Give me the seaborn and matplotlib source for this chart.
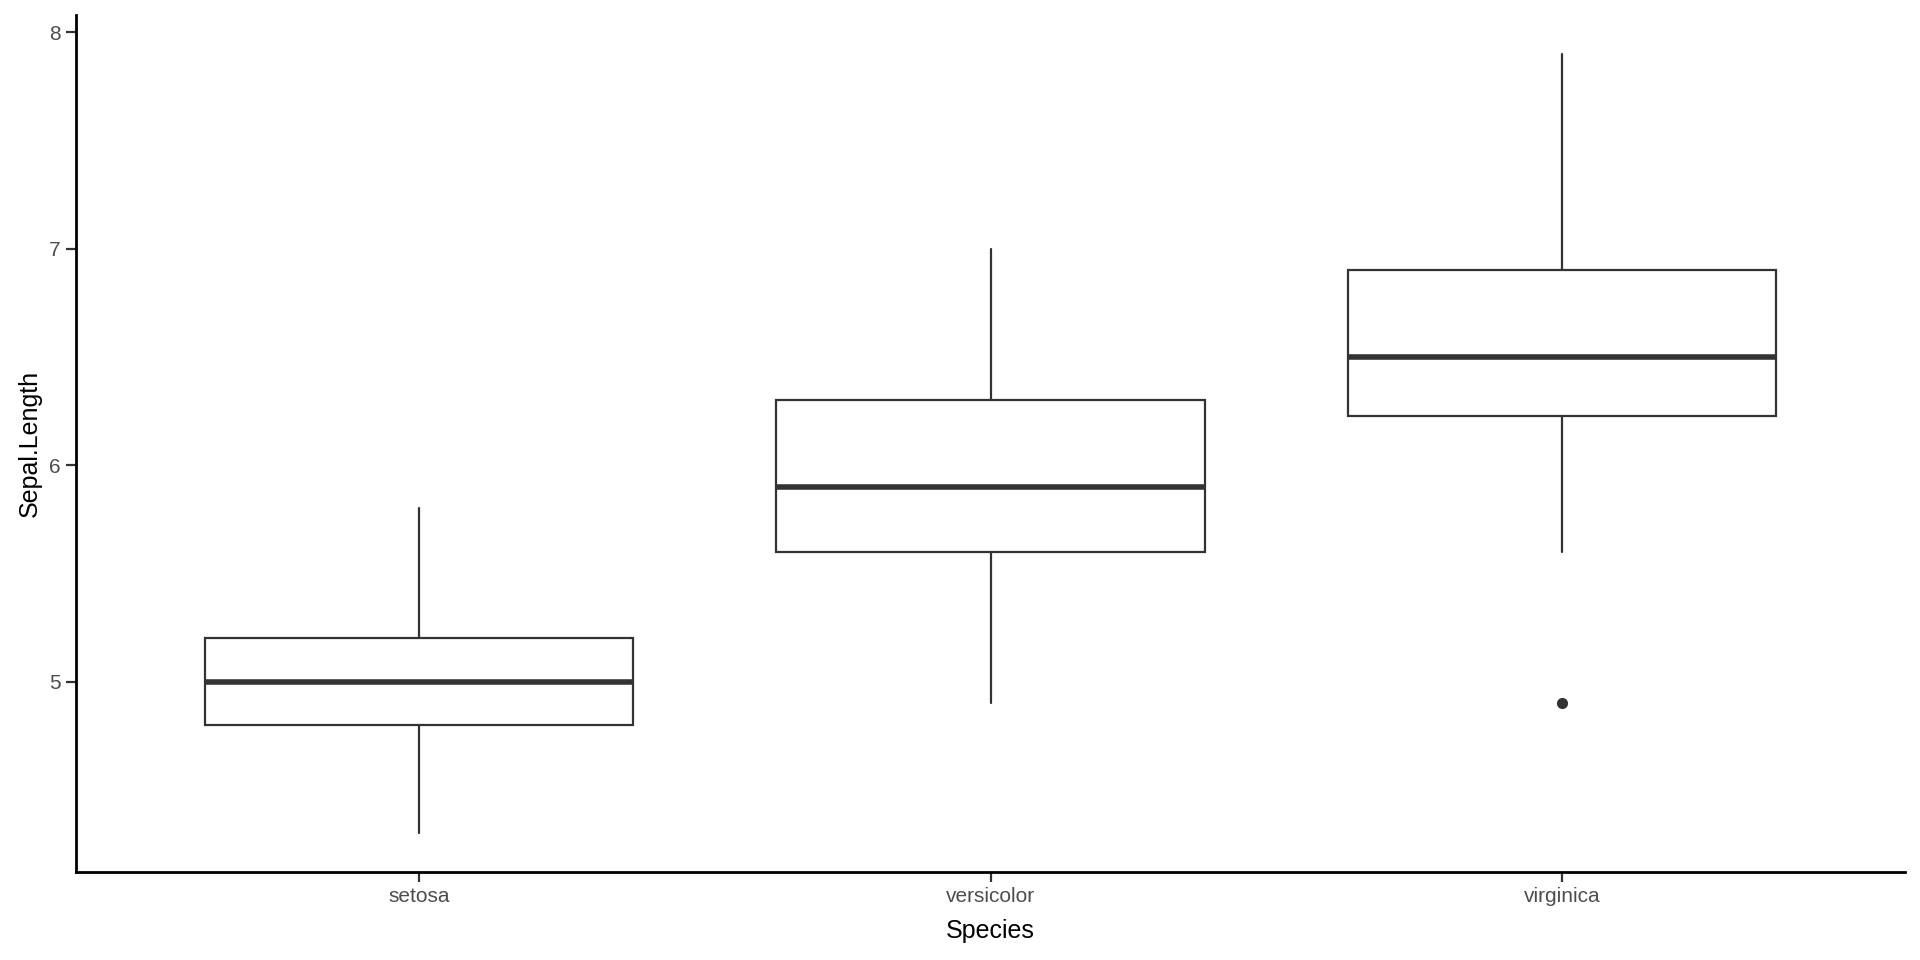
import numpy as np
import matplotlib
matplotlib.use('Agg')
import matplotlib.pyplot as plt
import seaborn as sns

# five-number summaries (Sepal.Length by Species)
species = ['setosa', 'versicolor', 'virginica']
whisker_low = [4.3, 4.9, 5.6]
q1 = [4.8, 5.6, 6.225]
medians = [5.0, 5.9, 6.5]
q3 = [5.2, 6.3, 6.9]
whisker_high = [5.8, 7.0, 7.9]
outliers = [[], [], [4.9]]

yticks = [5, 6, 7, 8]

sns.set_theme(style='ticks')
plt.rcParams['font.family'] = ['Liberation Sans', 'DejaVu Sans']

fig = plt.figure(figsize=(19.2, 9.6), dpi=100)
ax = fig.add_axes([76 / 1920, 1 - 872 / 960, (1905 - 76) / 1920, (872 - 15) / 960])

stats = []
for i, name in enumerate(species):
    stats.append({
        'label': name,
        'whislo': whisker_low[i],
        'q1': q1[i],
        'med': medians[i],
        'q3': q3[i],
        'whishi': whisker_high[i],
        'fliers': outliers[i],
    })

line_col = '#333333'
ax.bxp(stats, positions=range(1, len(species) + 1), widths=0.75,
       showcaps=False, patch_artist=True,
       boxprops=dict(facecolor='white', edgecolor=line_col, linewidth=1.6),
       medianprops=dict(color=line_col, linewidth=4),
       whiskerprops=dict(color=line_col, linewidth=1.6),
       flierprops=dict(marker='o', markerfacecolor=line_col, markeredgecolor=line_col,
                       markersize=7))

ymin = min(min(whisker_low), min(min(o) for o in outliers if o))
ymax = max(whisker_high)
pad = (ymax - ymin) * 0.05
ax.set_ylim(ymin - pad, ymax + pad)
ax.set_xlim(0.4, len(species) + 0.6)
ax.set_yticks(yticks)
ax.set_yticklabels([str(t) for t in yticks])
ax.set_xticks(range(1, len(species) + 1))
ax.set_xticklabels(species)

sns.despine(ax=ax)
for side in ['left', 'bottom']:
    ax.spines[side].set_linewidth(2)
    ax.spines[side].set_color('black')
ax.tick_params(axis='both', length=7, width=1.6, color=line_col,
               labelsize=15, labelcolor='#4D4D4D', pad=4)

ax.set_xlabel('Species', fontsize=18, color='black', labelpad=9)
ax.set_ylabel('Sepal.Length', fontsize=18, color='black', labelpad=5)

fig.savefig('out.png', dpi=100)
